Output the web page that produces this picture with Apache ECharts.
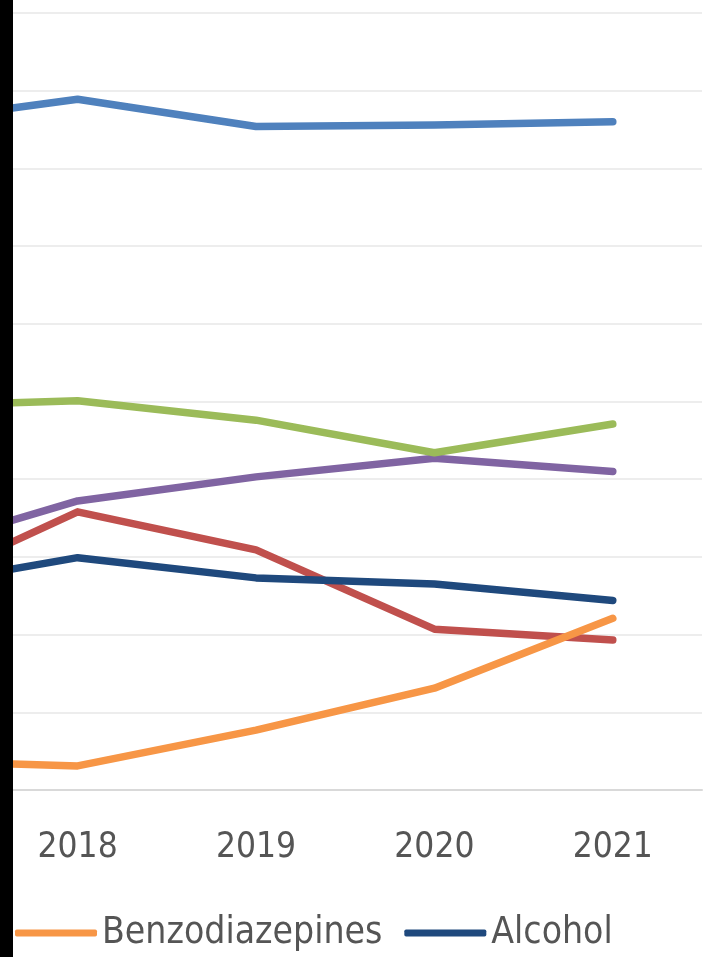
<!DOCTYPE html>
<html>
<head>
<meta charset="utf-8">
<script src="https://cdn.jsdelivr.net/npm/echarts@6/dist/echarts.min.js"></script>
<style>
  html, body { margin: 0; padding: 0; background: #ffffff; overflow: hidden; width: 712px; height: 957px; }
  #wrap { position: relative; width: 712px; height: 957px; overflow: hidden; }
  #chart { position: absolute; left: -190px; top: 0; width: 902px; height: 957px; }
</style>
</head>
<body>
<div id="wrap"><div id="chart"></div></div>
<script>
// Categories (2017 lies off-screen to the left in the cropped reference)
const years = ['2017', '2018', '2019', '2020', '2021'];

// Series values (arbitrary 0-100 scale)
const seriesTop    = [85.8, 88.9, 85.4, 85.6, 86.0]; // light blue
const seriesGreen  = [49.4, 50.1, 47.6, 43.4, 47.1];
const seriesPurple = [30.4, 37.2, 40.3, 42.7, 41.0];
const seriesRed    = [25.2, 35.8, 30.9, 20.7, 19.3];
const benzodiazepines = [3.8, 3.1, 7.7, 13.1, 22.1];
const alcohol      = [25.9, 29.9, 27.3, 26.5, 24.4];

// Legend entries visible in the crop
const legendNames = ['Benzodiazepines', 'Alcohol'];

const FONT = "'DejaVu Sans Condensed', 'DejaVu Sans', sans-serif";

function lineSeries(name, data, color, z) {
  return {
    name: name,
    type: 'line',
    data: data,
    symbol: 'none',
    z: z,
    lineStyle: { color: color, width: 7.5, cap: 'round', join: 'round' },
    itemStyle: { color: color },
    emphasis: { disabled: true }
  };
}

const chart = echarts.init(document.getElementById('chart'), null, { renderer: 'canvas' });
chart.setOption({
  backgroundColor: '#ffffff',
  animation: false,
  grid: { left: 0, right: 10, top: 13, bottom: 167, containLabel: false },
  xAxis: {
    type: 'category',
    data: years,
    boundaryGap: true,
    axisTick: { show: false },
    axisLine: { lineStyle: { color: '#d9d9d9', width: 2 } },
    axisLabel: { color: '#555555', fontSize: 35, fontFamily: FONT, margin: 40 }
  },
  yAxis: {
    type: 'value',
    min: 0, max: 100, interval: 10,
    axisLabel: { show: false },
    axisLine: { show: false },
    axisTick: { show: false },
    splitLine: { lineStyle: { color: '#ededed', width: 2 } }
  },
  legend: {
    data: legendNames,
    left: 200,
    top: 909,
    icon: 'roundRect',
    itemWidth: 82,
    itemHeight: 7,
    itemGap: 22,
    textStyle: { color: '#555555', fontSize: 37, fontFamily: FONT, lineHeight: 38 }
  },
  series: [
    lineSeries('Series 1', seriesTop, '#4f81bd', 2),
    lineSeries('Series 2', seriesRed, '#c0504d', 3),
    lineSeries('Series 4', seriesPurple, '#8064a2', 4),
    lineSeries('Series 3', seriesGreen, '#9bbb59', 5),
    lineSeries('Benzodiazepines', benzodiazepines, '#f79646', 6),
    lineSeries('Alcohol', alcohol, '#1f497d', 7)
  ],
  graphic: [{
    type: 'rect',
    left: 190, top: 0, z: 100,
    shape: { x: 0, y: 0, width: 13, height: 957 },
    style: { fill: '#000000' }
  }]
});
</script>
</body>
</html>
